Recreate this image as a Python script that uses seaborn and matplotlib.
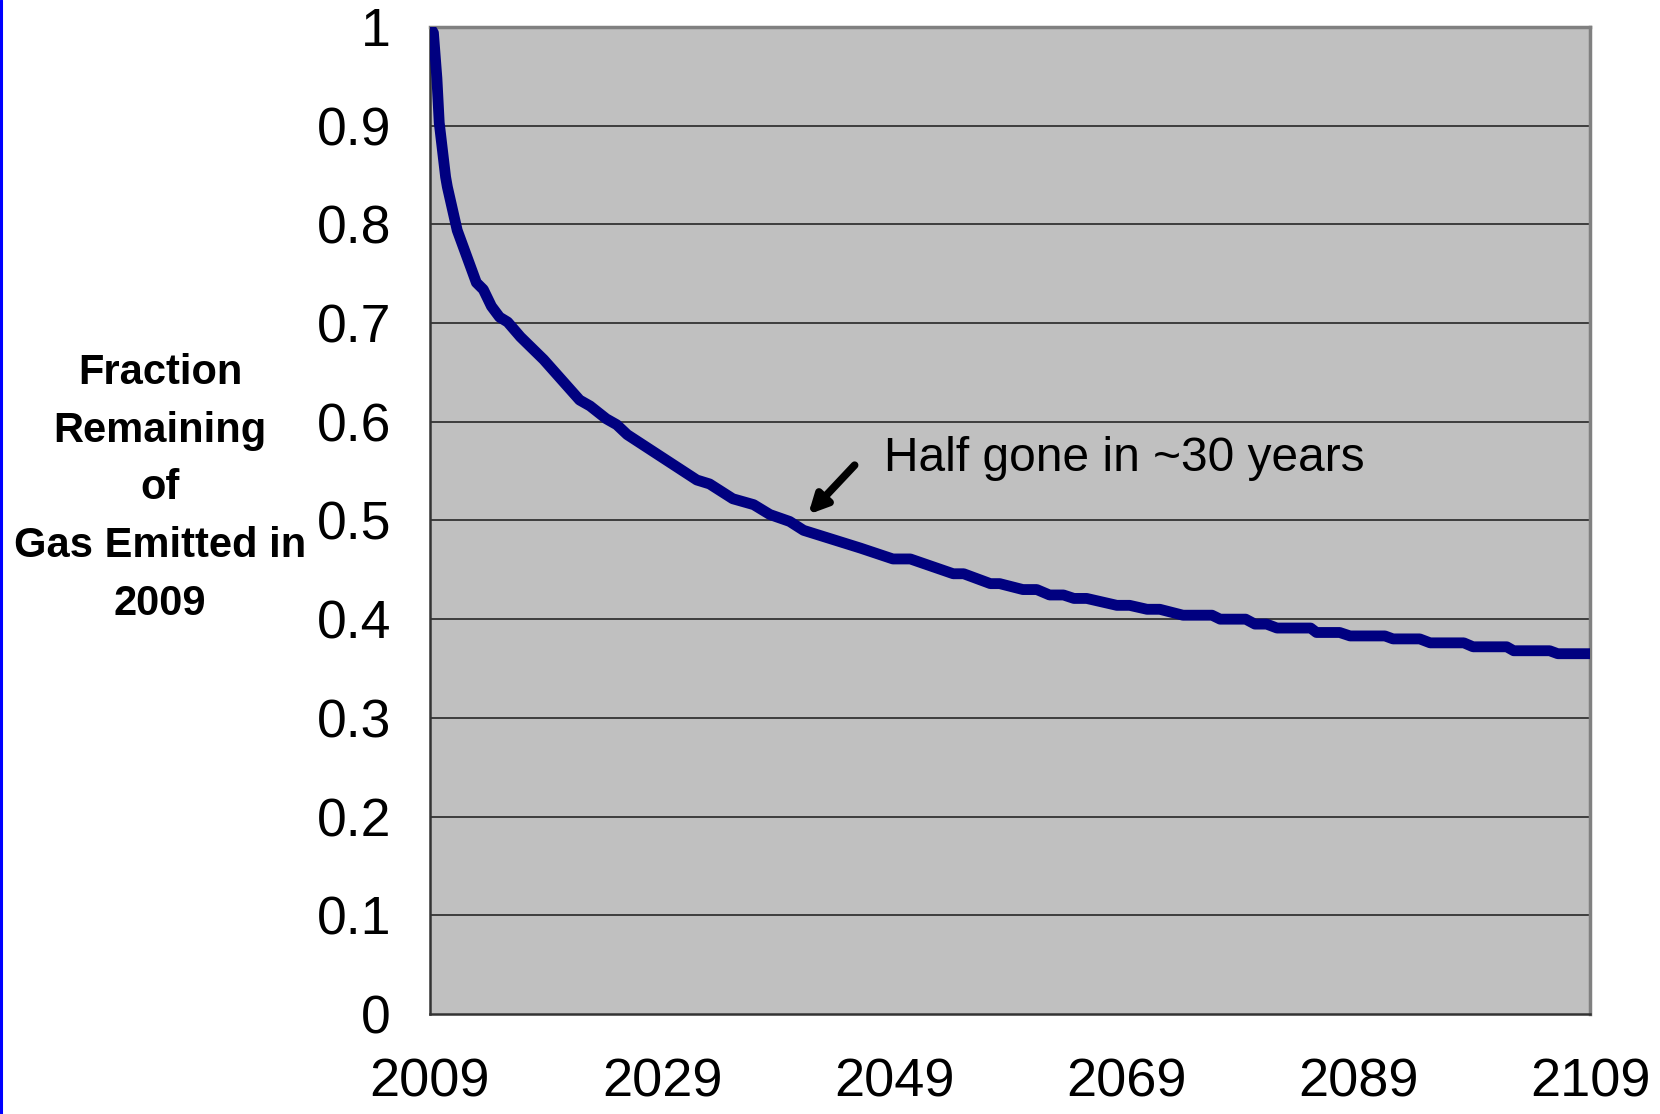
import matplotlib
matplotlib.use("Agg")
import matplotlib.pyplot as plt
import pandas as pd
import seaborn as sns
from matplotlib.lines import Line2D

# values (year, fraction remaining)
YEARS = [
    2009.0, 2009.3, 2009.6, 2009.6, 2009.8, 2010.35, 2010.5, 2011.35, 2013.0,
    2013.6, 2014.3, 2015.0, 2015.7, 2016.8, 2018.8, 2021.9, 2022.8, 2024.2,
    2025.1, 2026.0, 2032.0, 2033.1, 2035.1, 2036.9, 2038.3, 2040.0, 2041.2,
    2046.1, 2048.9, 2050.4, 2054.1, 2055.0, 2057.3, 2058.1, 2060.1, 2061.3,
    2062.4, 2063.6, 2064.5, 2065.6, 2068.2, 2069.3, 2070.8, 2071.9, 2073.9,
    2076.4, 2077.1, 2079.3, 2080.1, 2081.1, 2082.0, 2084.9, 2085.4, 2087.4,
    2088.3, 2091.3, 2092.0, 2094.3, 2095.2, 2098.1, 2098.9, 2101.8, 2102.4,
    2105.5, 2106.2, 2109.0,
]
FRACTION = [
    1.000, 0.994, 0.967, 0.929, 0.903, 0.848, 0.838, 0.794, 0.741,
    0.734, 0.717, 0.706, 0.701, 0.686, 0.663, 0.622, 0.616, 0.603,
    0.597, 0.587, 0.541, 0.537, 0.522, 0.516, 0.506, 0.499, 0.490,
    0.472, 0.461, 0.461, 0.446, 0.446, 0.436, 0.436, 0.430, 0.430,
    0.4245, 0.4245, 0.421, 0.421, 0.414, 0.414, 0.410, 0.410, 0.404,
    0.404, 0.400, 0.400, 0.395, 0.395, 0.391, 0.391, 0.3865, 0.3865,
    0.383, 0.383, 0.380, 0.380, 0.376, 0.376, 0.372, 0.372, 0.368,
    0.368, 0.365, 0.365,
]
X_TICKS = [2009, 2029, 2049, 2069, 2089, 2109]
Y_TICKS = [0, 0.1, 0.2, 0.3, 0.4, 0.5, 0.6, 0.7, 0.8, 0.9, 1.0]
Y_TICK_LABELS = ["0", "0.1", "0.2", "0.3", "0.4", "0.5", "0.6", "0.7", "0.8", "0.9", "1"]
Y_LABEL = "Fraction\nRemaining\nof\nGas Emitted in\n2009"
NOTE = "Half gone in ~30 years"

sns.set_style("white")
plt.rcParams["font.family"] = ["Liberation Sans", "DejaVu Sans"]
plt.rcParams["text.color"] = "black"
plt.rcParams["xtick.labelcolor"] = "black"
plt.rcParams["ytick.labelcolor"] = "black"

df = pd.DataFrame({"Year": YEARS, "Fraction": FRACTION})

fig = plt.figure(figsize=(16.6, 11.14), dpi=100)
ax = fig.add_axes([0.259, 0.0898, 0.699, 0.886])
ax.set_facecolor("#c0c0c0")

for y in Y_TICKS[1:-1]:
    ax.axhline(y, color="#1a1a1a", lw=1.1, zorder=1)

sns.lineplot(data=df, x="Year", y="Fraction", color="#000080", lw=7.8,
             solid_capstyle="round", solid_joinstyle="round", ax=ax, zorder=3)

ax.set_xlim(2009, 2109)
ax.set_ylim(0, 1)
ax.set_xticks(X_TICKS)
ax.set_xticklabels([str(x) for x in X_TICKS], fontsize=39)
ax.set_yticks(Y_TICKS)
ax.set_yticklabels(Y_TICK_LABELS, fontsize=38.5)
ax.tick_params(axis="x", direction="out", length=11, width=1.2, color="#333333", pad=20)
ax.tick_params(axis="y", direction="out", length=11, width=1.2, color="#555555", pad=17)
ax.set_xlabel("")
ax.set_ylabel("")

for side in ["top", "right"]:
    ax.spines[side].set_color("#808080")
    ax.spines[side].set_linewidth(2.5)
for side in ["left", "bottom"]:
    ax.spines[side].set_color("#333333")
    ax.spines[side].set_linewidth(1.8)

ax.annotate("", xy=(2041.6, 0.506), xytext=(2045.6, 0.556),
            arrowprops=dict(arrowstyle="-|>,head_length=1.1,head_width=0.55",
                            color="black", lw=5.5, shrinkA=0, shrinkB=0), zorder=4)
ax.text(2048.1, 0.563, NOTE, fontsize=34.5, ha="left", va="center", color="black")

fig.text(0.0965, 0.5615, Y_LABEL, fontsize=30, fontweight="bold", ha="center",
         va="center", linespacing=1.57, color="black")

fig.add_artist(Line2D([0.0009, 0.0009], [0, 1], color="#0000ff", lw=2.2,
                      transform=fig.transFigure))

fig.savefig("out.png", dpi=100)
